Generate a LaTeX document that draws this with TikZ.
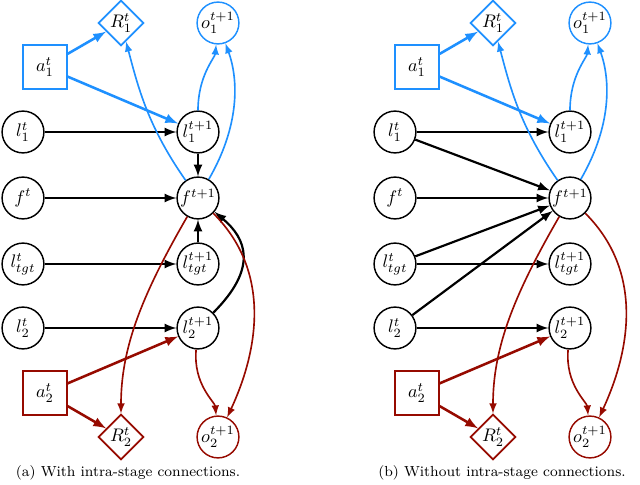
\documentclass[tikz,border=0pt]{standalone}
\usepackage{amsmath}
\usetikzlibrary{arrows,shapes.geometric}
\definecolor{actblue}{RGB}{30,144,255}
\definecolor{actred}{RGB}{150,10,0}

\begin{document}
\begin{tikzpicture}[x=0.55pt,y=-0.55pt,->,>=latex,
        var/.style={circle,draw,line width=0.8pt,minimum size=23pt,inner sep=0pt,font=\normalsize},
        act/.style={rectangle,draw,line width=0.9pt,minimum size=24pt,inner sep=0pt,font=\normalsize},
        rew/.style={diamond,draw,line width=0.9pt,minimum size=25pt,inner sep=0pt,font=\normalsize},
        blu/.style={draw=actblue,text=black},
        red/.style={draw=actred,text=black},
        dyn/.style={black,line width=1.2pt},
        bluline/.style={actblue,line width=0.9pt},
        redline/.style={actred,line width=0.9pt},
        strong/.style={line width=1.4pt}]
    \useasboundingbox (0,0) rectangle (640,485);

    % (a) with intra-stage connections
    \begin{scope}[name prefix=a-]
        \node[act,blu] (a1) at (45,67) {$a_1^t$};
        \node[rew,blu] (R1) at (121,23) {$R_1^t$};
        \node[var,blu] (o1) at (218,23) {$o_1^{t+1}$};
        \node[var] (l1) at (23,132) {$l_1^t$};
        \node[var] (f) at (23,198) {$f^t$};
        \node[var] (lt) at (23,264) {$l_{tgt}^t$};
        \node[var] (l2) at (23,328) {$l_2^t$};
        \node[var] (l1n) at (198,132) {$l_1^{t+1}$};
        \node[var] (fn) at (198,198) {$f^{t+1}$};
        \node[var] (ltn) at (198,264) {$l_{tgt}^{t+1}$};
        \node[var] (l2n) at (198,328) {$l_2^{t+1}$};
        \node[act,red] (a2) at (45,393) {$a_2^t$};
        \node[rew,red] (R2) at (121,437) {$R_2^t$};
        \node[var,red] (o2) at (218,437) {$o_2^{t+1}$};

        \path[dyn]
            (l1) edge (l1n)
            (f) edge (fn)
            (lt) edge (ltn)
            (l2) edge (l2n)
            (l1n) edge (fn)
            (ltn) edge (fn)
            (l2n) edge [out=45,in=-40,looseness=1.4] (fn);
        \path[bluline]
            (a1) edge [strong] (R1)
                 edge [strong] (l1n)
            (l1n) edge [out=90,in=-95] (o1)
            (fn) edge [out=60,in=-70] (o1)
                 edge [out=125,in=-75] (R1);
        \path[redline]
            (a2) edge [strong] (l2n)
                 edge [strong] (R2)
            (l2n) edge [out=-95,in=95] (o2)
            (fn) edge [out=-45,in=65] (o2)
                 edge [out=-120,in=90] (R2);
        \node[font=\footnotesize,draw=none] (capa) at (128,473) {(a) With intra-stage connections.};
    \end{scope}

    % (b) without intra-stage connections
    \begin{scope}[name prefix=b-,shift={(372,0)}]
        \node[act,blu] (a1) at (45,67) {$a_1^t$};
        \node[rew,blu] (R1) at (121,23) {$R_1^t$};
        \node[var,blu] (o1) at (218,23) {$o_1^{t+1}$};
        \node[var] (l1) at (23,132) {$l_1^t$};
        \node[var] (f) at (23,198) {$f^t$};
        \node[var] (lt) at (23,264) {$l_{tgt}^t$};
        \node[var] (l2) at (23,328) {$l_2^t$};
        \node[var] (l1n) at (198,132) {$l_1^{t+1}$};
        \node[var] (fn) at (198,198) {$f^{t+1}$};
        \node[var] (ltn) at (198,264) {$l_{tgt}^{t+1}$};
        \node[var] (l2n) at (198,328) {$l_2^{t+1}$};
        \node[act,red] (a2) at (45,393) {$a_2^t$};
        \node[rew,red] (R2) at (121,437) {$R_2^t$};
        \node[var,red] (o2) at (218,437) {$o_2^{t+1}$};

        \path[dyn]
            (l1) edge (l1n)
                 edge (fn)
            (f) edge (fn)
            (lt) edge (ltn)
                 edge (fn)
            (l2) edge (l2n)
                 edge (fn);
        \path[bluline]
            (a1) edge [strong] (R1)
                 edge [strong] (l1n)
            (l1n) edge [out=90,in=-95] (o1)
            (fn) edge [out=60,in=-70] (o1)
                 edge [out=125,in=-75] (R1);
        \path[redline]
            (a2) edge [strong] (l2n)
                 edge [strong] (R2)
            (l2n) edge [out=-95,in=95] (o2)
            (fn) edge [out=-45,in=65] (o2)
                 edge [out=-120,in=90] (R2);
        \node[font=\footnotesize,draw=none] (capb) at (130,473) {(b) Without intra-stage connections.};
    \end{scope}
\end{tikzpicture}
\end{document}
